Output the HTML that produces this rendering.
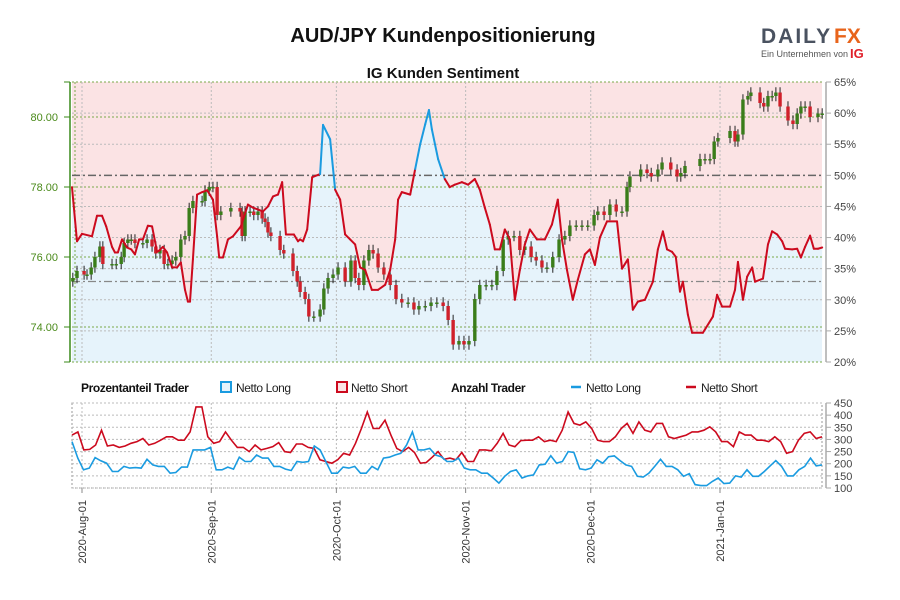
<!DOCTYPE html>
<html><head><meta charset="utf-8">
<style>
body{margin:0;background:#fff;font-family:"Liberation Sans",sans-serif;}
svg{display:block}
</style></head>
<body>
<svg id="c" width="900" height="600" viewBox="0 0 900 600">
<text x="443" y="42" text-anchor="middle" font-size="20" font-weight="bold" fill="#111">AUD/JPY Kundenpositionierung</text>
<text x="443" y="78" text-anchor="middle" font-size="15" font-weight="bold" fill="#111">IG Kunden Sentiment</text>
<g>
<text x="761" y="43" font-size="21" font-weight="bold" fill="#4a5260" letter-spacing="2">DAILY</text>
<text x="834" y="43" font-size="21" font-weight="bold" fill="#e8641b">FX</text>
<text x="761" y="57" font-size="9" fill="#555">Ein Unternehmen von</text>
<text x="850" y="58" font-size="13" font-weight="bold" fill="#e0202a">IG</text>
</g>
<g id="main"></g>
<g id="legend">
<text x="81" y="392" font-size="12" font-weight="bold" fill="#111" letter-spacing="-0.4">Prozentanteil Trader</text>
<rect x="221" y="382" width="10" height="10" fill="#e6f3fb" stroke="#1a9be0" stroke-width="2"/>
<text x="236" y="392" font-size="12" fill="#222" letter-spacing="-0.4">Netto Long</text>
<rect x="337" y="382" width="10" height="10" fill="#fbe3e4" stroke="#cc0a1e" stroke-width="2"/>
<text x="351" y="392" font-size="12" fill="#222" letter-spacing="-0.4">Netto Short</text>
<text x="451" y="392" font-size="12" font-weight="bold" fill="#111" letter-spacing="-0.4">Anzahl Trader</text>
<line x1="571" y1="387" x2="581" y2="387" stroke="#1a9be0" stroke-width="2.5"/>
<text x="586" y="392" font-size="12" fill="#222" letter-spacing="-0.4">Netto Long</text>
<line x1="686" y1="387" x2="696" y2="387" stroke="#cc0a1e" stroke-width="2.5"/>
<text x="701" y="392" font-size="12" fill="#222" letter-spacing="-0.4">Netto Short</text>
</g>
<g id="bottom"></g>
</svg>
<script>
// ---- data ----
const monthLabels = ["2020-Aug-01","2020-Sep-01","2020-Oct-01","2020-Nov-01","2020-Dec-01","2021-Jan-01"];
const monthDays = [0,31,61,92,122,153];
const priceTicks = [74,76,78,80];
const pctTicks = [20,25,30,35,40,45,50,55,60,65];
const countTicks = [100,150,200,250,300,350,400,450];
const sentDays = [-2.4,-1.2,0,2.4,3.6,4.8,5.8,7.2,7.9,8.6,9.6,10.8,11.8,12.7,13.7,14.6,15.8,16.8,18,18.5,19.4,20.4,21.6,22.8,23.7,24.7,25.4,25.9,26.6,27.6,28.8,30,31.4,32.4,32.9,33.8,35,36.2,38.1,39.8,41,42.2,43.4,44.6,45.8,47,48,48.9,50.4,50.8,51.8,52.3,53,54,55.2,57.1,57.8,59.5,60.7,61.9,63.1,64.3,65.5,66.7,67.9,69.5,71,72.7,73.9,75.1,75.8,76.7,78.7,79.9,81.1,82.3,83.2,83.9,85.4,87,88.2,89.4,91.1,92.6,94.2,95.4,96.6,97.8,99,100.2,101.4,102.6,103.8,105,106.2,107.4,109.1,111,112.7,114.1,115.1,116.3,117.7,118.9,120.6,121.8,123,124.2,125.9,128.3,129.5,130.9,132.1,133.3,135,136.9,138.1,139.3,140.3,141.5,142.4,143.4,144.1,145.3,146.3,148.9,151.3,152.3,153.5,155.4,156.6,157.3,158.5,159.5,160.7,161.4,163.3,164.5,165.5,166.7,167.9,168.6,170.3,171.5,172.4,173.4,174.6,175.5,176.5,177.5];
const sentPct = [48.1,39.4,40.6,40.2,43.5,43.5,41.8,38.5,37.6,37.6,39.7,38.4,38.1,37.3,39.7,39.7,41.9,41.8,37.7,37.9,38.5,37.6,35.2,35.2,36.0,31.6,29.7,29.7,36.5,46.9,47.3,47.6,46.1,40.2,36.8,36.8,39.7,40.2,41.8,45.3,44.8,44.5,44.2,45.0,46.6,46.9,48.9,40.5,40.5,40.5,39.4,39.7,39.4,41.3,49.7,50.2,58.1,55.8,47.7,46.1,40.5,39.7,38.9,35.2,34.8,31.6,31.6,32.4,34.8,39.7,46.1,47.3,46.9,51,55,58.2,60.5,57.4,52.6,49.4,48.1,48.5,48.9,48.5,49.4,47.7,44.8,42.1,38.1,38.1,41.3,39.7,30,34.8,38.9,41.3,39.7,39.7,42.1,46.1,39.7,34.8,30,33.2,37.3,38.1,35.6,40,42.6,42.6,35,36.5,28.4,29.7,30,32.9,38.1,41,38.1,37.7,36.9,31.3,32.9,27.6,24.7,24.7,27.3,30.8,28.9,28.9,31.6,36.1,30,33.7,35.2,32.9,33.4,38.9,41,40.5,39.4,38.2,38.1,38.2,36.8,38.5,40.3,38.2,38.2,38.4];
const candleDays = [-2.2,-1.2,0.5,1.2,2.2,3.1,4.3,5,7.2,8.2,9.4,10.1,11,11.8,12.7,14.6,15.6,16.8,17.7,18.7,19.7,20.6,21.6,22.5,23.7,24.7,25.7,26.6,28.8,29.5,30.5,31.4,32.4,33.3,35.7,37.9,38.4,39.1,40.3,41.2,42.2,43.2,43.9,44.6,45.3,47.5,48.4,50.6,51.6,52.3,53.5,54.4,55.6,57.1,58,59,60.2,61.4,63.1,64.5,65.5,66.4,67.6,68.8,69.8,71,72.4,73.9,75.3,76.7,78.2,79.6,80.8,82.3,83.7,85.1,86.6,87.8,89,90.4,91.6,92.8,94.2,95.4,96.9,98.3,99.5,101,102.2,103.6,105,106.2,107.7,108.9,110.3,111.5,112.9,114.4,115.8,117,118.5,119.9,121.3,122.8,123.7,125.2,126.6,128.1,129.5,130.7,131.4,134,135.5,136.5,138.1,139.1,141.2,142.7,143.6,144.6,148.2,149.4,150.6,151.6,152.5,155.4,156.6,157.3,158.5,159.7,160.4,162.6,163.5,164.5,165.5,166.4,167.4,169.3,170.5,171.5,172.4,173.4,174.6,176.5,177.5];
const closes = [75.4,75.6,75.5,75.5,75.7,76.0,76.3,75.8,75.8,75.8,76.0,76.4,76.5,76.5,76.4,76.4,76.5,76.3,76.1,76.2,75.8,75.8,75.9,76.0,76.5,76.6,77.4,77.6,77.6,77.9,78.0,78.0,77.2,77.3,77.4,77.3,76.6,77.3,77.3,77.2,77.3,77.1,77.0,76.7,76.6,76.2,76.1,75.6,75.3,75.0,74.8,74.3,74.3,74.5,75.1,75.4,75.5,75.7,75.3,75.9,75.4,75.2,75.9,76.2,76.1,75.7,75.5,75.2,74.8,74.7,74.7,74.5,74.6,74.6,74.7,74.7,74.6,74.2,73.5,73.6,73.5,73.6,74.8,75.2,75.2,75.2,75.6,76.5,76.6,76.6,76.2,76.3,76.0,75.9,75.7,75.7,76.0,76.5,76.6,76.9,76.9,76.9,76.9,77.2,77.3,77.2,77.5,77.3,77.3,78.0,78.3,78.5,78.4,78.3,78.5,78.7,78.5,78.3,78.4,78.6,78.8,78.8,78.8,79.3,79.4,79.6,79.3,79.5,80.5,80.6,80.7,80.4,80.3,80.6,80.6,80.7,80.3,79.9,79.8,80.1,80.3,80.3,80.0,80.1,80.1];
const shortCounts = [318,331,257,259,277,338,273,277,267,273,284,291,304,277,284,297,311,311,297,297,331,434,434,311,284,291,331,297,267,267,250,277,257,263,270,287,250,246,281,281,267,263,216,209,202,216,243,236,284,345,413,345,345,379,318,263,250,267,246,202,205,227,250,218,223,216,246,209,209,257,257,253,284,325,277,270,295,297,297,311,291,297,291,338,413,366,359,372,345,297,291,291,311,345,366,325,372,338,331,366,366,311,304,311,318,331,331,338,352,331,291,291,270,331,318,318,297,297,291,311,291,243,250,297,325,331,304,311];
const longCounts = [291,223,175,182,225,212,202,168,168,189,182,184,182,218,195,189,189,161,164,186,186,257,257,257,267,175,175,186,178,227,209,209,236,223,223,189,189,178,172,209,206,209,273,257,209,161,161,186,182,189,161,161,189,175,223,227,236,243,277,331,257,257,263,236,229,209,209,223,182,175,175,161,161,141,120,148,168,175,141,150,154,195,198,233,202,209,250,246,179,175,182,216,202,229,232,213,195,189,148,145,161,189,218,189,189,175,148,159,114,110,110,127,141,118,120,150,145,175,148,148,168,191,213,189,150,150,175,189,223,191,195];

// ---- geometry ----
const NS='http://www.w3.org/2000/svg';
const L=72,R=822,T=82,B=362,BT=403,BB=488;
const dayX = d => 82 + d*4.17;
const pctY = p => B - (p-20)*(B-T)/45;
const priceY = v => T + (81-v)*35;
const cntY = v => BT + (450-v)*(BB-BT)/350;
function mk(tag,attrs,parent){const e=document.createElementNS(NS,tag);for(const k in attrs)e.setAttribute(k,attrs[k]);parent.appendChild(e);return e;}
const main=document.getElementById('main'), bot=document.getElementById('bottom');

const pinkBg=mk('rect',{x:L,y:T,width:R-L,height:B-T,fill:'#fbe3e4'},main);


let pts=sentDays.map((d,i)=>dayX(d).toFixed(1)+','+pctY(sentPct[i]).toFixed(1));
const blueArea=mk('polygon',{points:L+','+B+' '+L+','+pctY(sentPct[0]).toFixed(1)+' '+pts.join(' ')+' '+R+','+B,fill:'#e6f3fb'},main);



pctTicks.forEach(p=>{if(p===20||p===65||p===50)return;mk('line',{x1:L,x2:R,y1:pctY(p),y2:pctY(p),stroke:'#bbb','stroke-dasharray':'2,2','stroke-width':1},main);});
priceTicks.forEach(v=>{mk('line',{x1:L,x2:R,y1:priceY(v),y2:priceY(v),stroke:'#7aa84a','stroke-dasharray':'2,2','stroke-width':1},main);});
mk('line',{x1:L,x2:R,y1:T,y2:T,stroke:'#7aa84a','stroke-dasharray':'2,2'},main);
mk('line',{x1:L,x2:R,y1:B,y2:B,stroke:'#7aa84a','stroke-dasharray':'2,2'},main);
monthDays.forEach(d=>{mk('line',{x1:dayX(d),x2:dayX(d),y1:T,y2:B,stroke:'#bbb','stroke-dasharray':'2,2'},main);});
mk('line',{x1:75,x2:75,y1:T,y2:B,stroke:'#7aa84a','stroke-dasharray':'2,2'},main);
const ref50=mk('line',{x1:L,x2:R,y1:pctY(50),y2:pctY(50),stroke:'#666','stroke-dasharray':'8,3,2,3','stroke-width':1.5},main);


const refLow=mk('line',{x1:L,x2:R,y1:priceY(75.3),y2:priceY(75.3),stroke:'#888','stroke-dasharray':'8,3,2,3','stroke-width':1.2},main);



const cg=mk('g',{},main);


closes.forEach((c,i)=>{
  const o=i>0?closes[i-1]:c-0.1;
  const x=dayX(candleDays[i]);
  const hi=Math.max(o,c)+0.15, lo=Math.min(o,c)-0.15;
  mk('line',{x1:x,x2:x,y1:priceY(hi),y2:priceY(lo),stroke:'#222','stroke-width':1},cg);
  const up=c>=o;
  const r=mk('rect',{x:x-1.7,y:priceY(Math.max(o,c)),width:3.4,height:Math.max(1.5,Math.abs(priceY(o)-priceY(c))),fill:up?'#3a7d1a':'#d0202a'},cg);
  
  
});

for(let i=0;i<sentDays.length-1;i++){
  const a=sentPct[i],b=sentPct[i+1];
  const col=(a+b)/2>=50?'#1a9be0':'#cc0a1e';
  const s=mk('line',{x1:dayX(sentDays[i]),y1:pctY(a),x2:dayX(sentDays[i+1]),y2:pctY(b),stroke:col,'stroke-width':2,'stroke-linecap':'round'},main);
  
  
}

mk('line',{x1:70,x2:70,y1:T,y2:B,stroke:'#3a8a1a','stroke-width':1.5},main);
priceTicks.forEach(v=>{
  mk('line',{x1:64,x2:70,y1:priceY(v),y2:priceY(v),stroke:'#3a8a1a'},main);
  const t=mk('text',{x:58,y:priceY(v)+4,'text-anchor':'end','font-size':11,fill:'#4a8a1a'},main);
  t.textContent=v.toFixed(2);
  
  
});
mk('line',{x1:64,x2:70,y1:T,y2:T,stroke:'#3a8a1a'},main);
mk('line',{x1:64,x2:70,y1:B,y2:B,stroke:'#3a8a1a'},main);
mk('line',{x1:826,x2:826,y1:T,y2:B,stroke:'#aaa','stroke-width':1.5},main);
pctTicks.forEach(p=>{
  mk('line',{x1:826,x2:831,y1:pctY(p),y2:pctY(p),stroke:'#aaa'},main);
  const t=mk('text',{x:834,y:pctY(p)+4,'font-size':11,fill:'#444'},main);
  t.textContent=p+'%';
  
  
});

mk('rect',{x:L,y:BT,width:R-L,height:BB-BT,fill:'none',stroke:'#999','stroke-dasharray':'2,2'},bot);
countTicks.forEach(v=>{
  mk('line',{x1:L,x2:R,y1:cntY(v),y2:cntY(v),stroke:'#bbb','stroke-dasharray':'2,2'},bot);
  mk('line',{x1:826,x2:831,y1:cntY(v),y2:cntY(v),stroke:'#aaa'},bot);
  const t=mk('text',{x:834,y:cntY(v)+4,'font-size':11,fill:'#444'},bot);
  t.textContent=v;
  
  
});
mk('line',{x1:826,x2:826,y1:BT,y2:BB,stroke:'#aaa','stroke-width':1.5},bot);
monthDays.forEach((d,i)=>{
  const x=dayX(d);
  mk('line',{x1:x,x2:x,y1:BT,y2:BB,stroke:'#bbb','stroke-dasharray':'2,2'},bot);
  mk('line',{x1:x,x2:x,y1:BB,y2:BB+5,stroke:'#888'},bot);
  const t=mk('text',{x:x+4,y:500,'text-anchor':'end','font-size':11,fill:'#333',transform:'rotate(-90 '+(x+4)+' 500)'},bot);
  t.textContent=monthLabels[i];
  
  
});
const cd0=dayX(-2.4), cd1=R;
function series(arr,col,name){
  const p=arr.map((v,i)=>(cd0+(cd1-cd0)*i/(arr.length-1)).toFixed(1)+','+cntY(v).toFixed(1)).join(' ');
  const pl=mk('polyline',{points:p,fill:'none',stroke:col,'stroke-width':1.6},bot);
  
  
}
series(shortCounts,'#cc0a1e','net-short-count-line');
series(longCounts,'#1a9be0','net-long-count-line');
</script>
</body></html>
